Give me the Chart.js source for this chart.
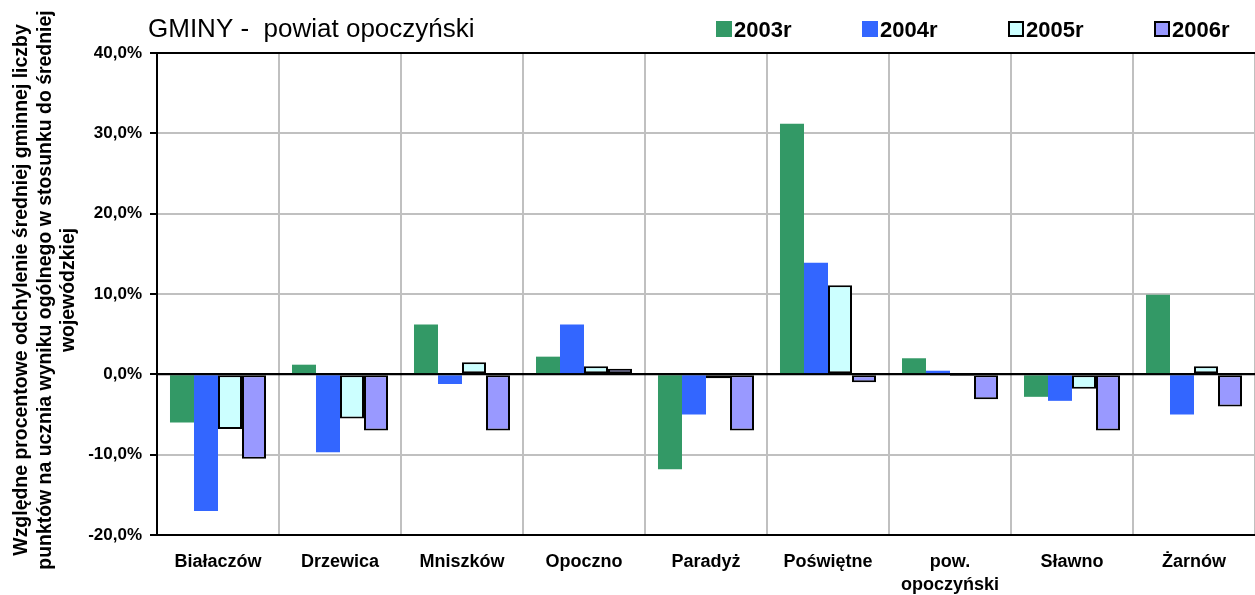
<!DOCTYPE html>
<html>
<head>
<meta charset="utf-8">
<script src="https://cdn.jsdelivr.net/npm/chart.js@4/dist/chart.umd.min.js"></script>
<style>
  html, body { margin: 0; padding: 0; background: #fff; }
  #wrap { width: 1255px; height: 595px; position: relative; }
</style>
</head>
<body>
<div id="wrap"><canvas id="c" width="1255" height="595"></canvas></div>
<script>
const chartTitle = 'GMINY -  powiat opoczyński';
const yTitleLines = [
  'Względne procentowe odchylenie średniej gminnej liczby',
  'punktów na ucznia wyniku ogólnego w stosunku do średniej',
  'wojewódzkiej'
];
const categories = ['Białaczów', 'Drzewica', 'Mniszków', 'Opoczno', 'Paradyż', 'Poświętne', ['pow.', 'opoczyński'], 'Sławno', 'Żarnów'];
const seriesNames = ['2003r', '2004r', '2005r', '2006r'];
const s2003 = [-6.0, 1.2, 6.2, 2.2, -11.8, 31.2, 2.0, -2.8, 9.9];
const s2004 = [-17.0, -9.7, -1.2, 6.2, -5.0, 13.9, 0.45, -3.3, -5.0];
const s2005 = [-6.8, -5.5, 1.5, 1.0, -0.5, 11.1, -0.2, -1.8, 1.0];
const s2006 = [-10.5, -7.0, -7.0, 0.7, -7.0, -1.0, -3.1, -7.0, -4.0];
const yTicks = [-20, -10, 0, 10, 20, 30, 40];

const colors = ['#339966', '#3366FF', '#CCFFFF', '#9999FF'];
const borders = [0, 0, 2, 2];
const allSeries = [s2003, s2004, s2005, s2006];

function fmt(v) { return v.toFixed(1).replace('.', ',') + '%'; }

const overlay = {
  id: 'overlay',
  afterDatasetsDraw(chart) {
    const ctx = chart.ctx;
    const y = chart.scales.y;
    const ca = chart.chartArea;
    ctx.save();
    const y0 = y.getPixelForValue(0);
    ctx.strokeStyle = '#000';
    ctx.lineWidth = 2;
    ctx.beginPath();
    ctx.moveTo(ca.left, y0);
    ctx.lineTo(ca.right, y0);
    ctx.stroke();
    ctx.restore();
  },
  afterDraw(chart) {
    const ctx = chart.ctx;
    ctx.save();
    ctx.fillStyle = '#000';
    ctx.font = '26px "Liberation Sans", Arial, sans-serif';
    ctx.textBaseline = 'alphabetic';
    ctx.textAlign = 'left';
    ctx.fillText(chartTitle, 148, 37);

    const startX = 716, pitch = 146;
    ctx.font = 'bold 22px "Liberation Sans", Arial, sans-serif';
    chart.data.datasets.forEach((ds, i) => {
      const bx = startX + i * pitch;
      ctx.fillStyle = ds.backgroundColor;
      ctx.fillRect(bx, 21, 16, 16);
      if (ds.borderWidth) {
        ctx.strokeStyle = '#000';
        ctx.lineWidth = 2;
        ctx.strokeRect(bx + 1, 22, 14, 14);
      }
      ctx.fillStyle = '#000';
      ctx.fillText(ds.label, bx + 18, 37);
    });

    const cy = 290;
    const xs = [22, 46, 69];
    ctx.font = 'bold 15px "Liberation Sans", Arial, sans-serif';
    const w1 = ctx.measureText(yTitleLines[0]).width;
    const w2 = ctx.measureText(yTitleLines[1]).width;
    const size = 15 * 560 / Math.max(w1, w2);
    ctx.font = 'bold ' + size.toFixed(2) + 'px "Liberation Sans", Arial, sans-serif';
    ctx.textAlign = 'center';
    ctx.textBaseline = 'middle';
    yTitleLines.forEach((t, i) => {
      ctx.save();
      ctx.translate(xs[i], cy);
      ctx.rotate(-Math.PI / 2);
      ctx.fillText(t, 0, 0);
      ctx.restore();
    });
    ctx.restore();
  }
};

new Chart(document.getElementById('c'), {
  type: 'bar',
  data: {
    labels: categories,
    datasets: allSeries.map((d, i) => ({
      label: seriesNames[i],
      data: d,
      backgroundColor: colors[i],
      borderColor: '#000',
      borderWidth: borders[i],
      borderSkipped: false,
      categoryPercentage: 0.787,
      barPercentage: 1.0
    }))
  },
  options: {
    responsive: false,
    animation: false,
    layout: { padding: { top: 53, right: 0, bottom: 0, left: 0 } },
    plugins: { legend: { display: false }, title: { display: false }, tooltip: { enabled: false } },
    scales: {
      x: {
        afterFit(s) { s.height = 60; },
        grid: { offset: true, color: '#c0c0c0', lineWidth: 2, drawTicks: false },
        border: { display: true, color: '#000', width: 2 },
        ticks: {
          autoSkip: false, maxRotation: 0, minRotation: 0, padding: 15,
          color: '#000',
          font: { family: '"Liberation Sans", Arial, sans-serif', size: 18, weight: 'bold', lineHeight: 1.3 }
        }
      },
      y: {
        min: -20, max: 40,
        afterFit(s) { s.width = 157; },
        afterBuildTicks(s) { s.ticks = yTicks.map(v => ({ value: v })); },
        grid: {
          color: c => (c.tick && (c.tick.value === 40 || c.tick.value === 0)) ? '#000' : '#c0c0c0',
          lineWidth: 2, tickLength: 7, tickColor: '#000', tickWidth: 2
        },
        border: { display: true, color: '#000', width: 2 },
        ticks: {
          padding: 8, color: '#000',
          font: { family: '"Liberation Sans", Arial, sans-serif', size: 17, weight: 'bold' },
          callback: v => fmt(v)
        }
      }
    }
  },
  plugins: [overlay]
});
</script>
</body>
</html>
